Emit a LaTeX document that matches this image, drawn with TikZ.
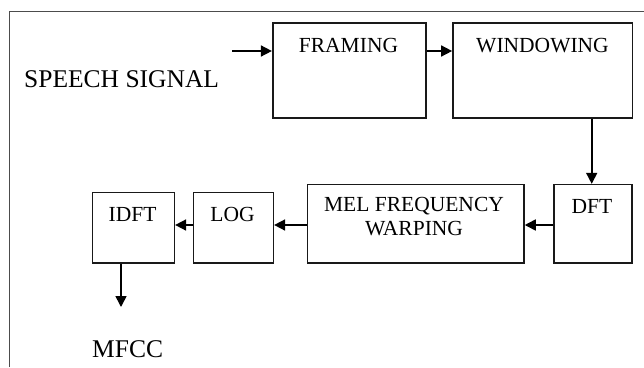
\documentclass[tikz,border=0pt]{standalone}
\usepackage{fontspec}
\setmainfont{Liberation Serif}
\usetikzlibrary{arrows.meta}
\begin{document}
\begin{tikzpicture}[x=1pt,y=-1pt,
  blk/.style={draw=black!90,line width=1.6pt,rectangle,inner sep=0pt},
  lbl/.style={anchor=base,inner sep=0pt,font=\fontsize{21.5}{24}\selectfont,align=center},
  big/.style={anchor=base west,inner sep=0pt,font=\fontsize{25.5}{28}\selectfont},
  arr/.style={line width=1.6pt,-{Triangle[length=11pt,width=11pt]}}]
\useasboundingbox (0,0) rectangle (644,367);
% frame
\draw[line width=1pt,black!70] (9,367) -- (9,11) -- (644,11);
% boxes
\node[blk,minimum width=153pt,minimum height=95pt] (fr) at (349.2,70.5) {};
\node[blk,minimum width=179.7pt,minimum height=95pt] (win) at (542.8,70.5) {};
\node[blk,minimum width=78pt,minimum height=78.3pt] (dft) at (593,223.8) {};
\node[blk,minimum width=216.3pt,minimum height=78.3pt] (mel) at (415.8,223.8) {};
\node[blk,minimum width=80pt,minimum height=70.7pt] (log) at (233.3,227.7) {};
\node[blk,minimum width=82pt,minimum height=70.7pt] (idft) at (133.3,227.7) {};
% labels
\node[lbl] (tfr) at (348.5,52.3) {FRAMING};
\node[lbl] (twin) at (542.5,52.3) {WINDOWING};
\node[lbl] (tdft) at (592,213) {DFT};
\node[lbl,anchor=north] (tmel) at (414,197) {MEL FREQUENCY\\WARPING};
\node[lbl] (tlog) at (232.5,221) {LOG};
\node[lbl] (tidft) at (132.5,221) {IDFT};
\node[big] (speech) at (24,87) {SPEECH SIGNAL};
\node[big] (mfcc) at (92,357) {MFCC};
% connectors
\coordinate (in) at (232,51);
\coordinate (t) at (0,51);
\coordinate (r) at (0,225);
\coordinate (out) at (121,307);
\draw[arr] (in) -- (fr.west |- t);
\draw[arr] (fr.east |- t) -- (win.west |- t);
\draw[arr] ([xshift=48.9pt]win.south) -- ([xshift=-1.3pt]dft.north);
\draw[arr] (dft.west |- r) -- (mel.east |- r);
\draw[arr] (mel.west |- r) -- (log.east |- r);
\draw[arr] (log.west |- r) -- (idft.east |- r);
\draw[arr] (idft.south -| out) -- (out);
\end{tikzpicture}
\end{document}
